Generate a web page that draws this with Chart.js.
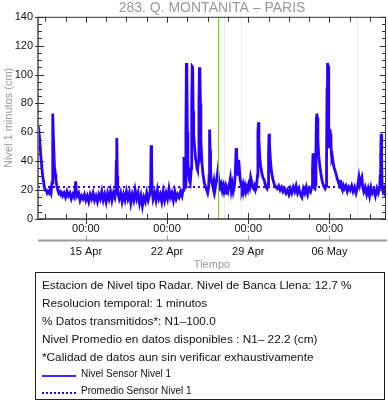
<!DOCTYPE html>
<html><head><meta charset="utf-8">
<script src="https://cdn.jsdelivr.net/npm/chart.js@4"></script>
<style>
html,body{margin:0;padding:0;background:#fff;}
#wrap{position:relative;width:388px;height:404px;overflow:hidden;font-family:"Liberation Sans",Arial,Helvetica,sans-serif;}
#cbox{position:absolute;left:0;top:0;width:388px;height:273px;}
#info{position:absolute;left:35px;top:272px;width:350px;height:128px;border:1px solid #222;box-sizing:border-box;color:#111;}
.l{position:absolute;left:6px;white-space:nowrap;font-size:11.8px;line-height:14px;}
.g{position:absolute;left:45px;white-space:nowrap;font-size:10px;line-height:12px;}
.s{position:absolute;left:6px;width:34px;}
</style></head>
<body>
<div id="wrap">
<div id="cbox"><canvas id="c" width="388" height="273"></canvas></div>
<div id="info">
<div class="l" style="top:5px">Estacion de Nivel tipo Radar. Nivel de Banca Llena: 12.7 %</div>
<div class="l" style="top:23px">Resolucion temporal: 1 minutos</div>
<div class="l" style="top:41px">% Datos transmitidos*: N1&#8211;100.0</div>
<div class="l" style="top:59px">Nivel Promedio en datos disponibles : N1&#8211; 22.2 (cm)</div>
<div class="l" style="top:77px">*Calidad de datos aun sin verificar exhaustivamente</div>
<div class="s" style="top:102px;height:2px;background:#3a2aff"></div>
<div class="g" style="top:95px">Nivel Sensor Nivel 1</div>
<div class="s" style="top:119px;height:0;border-top:2px dotted #2a00ff"></div>
<div class="g" style="top:112px">Promedio Sensor Nivel 1</div>
</div>
</div>
<script>
// hours since 10 Apr 00:00
const hours = [21,22,24,27,29,31,33,34,36,38,40,42,44,46,48,
50,51,52,53,55,57,58,60,62,64,66,68,70,
72,75,78,81,84,87,90,93,96,99,100,102,105,108,111,114,117,120,123,126,129,132,135,138,141,144,147,150,153,156,159,162,165,168,171,174,177,180,
182,183,184,185,186,189,192,195,198,201,204,207,210,213,216,219,222,225,228,231,234,237,240,243,246,249,252,
254,255,256,257,259,262,265,268,271,274,277,280,283,286,289,292,295,298,301,304,307,310,313,316,319,321,
323,324,326,327,328,329,330,331,333,334,336,338,339,340,341,342,343,345,347,349,350,351,353,354,355,356,357,358,360,362,365,368,370,372,374,375,376,377,378,
379,381,383,385,387,389,391,393,394,396,398,400,402,404,406,408,410,412,414,416,418,419,421,423,425,427,429,431,432,434,436,437,439,441,443,445,447,449,451,453,455,457,459,461,463,465,467,469,471,473,
475,476,477,478,480,482,484,486,489,491,493,495,497,498,499,500,502,504,506,508,510,513,516,519,522,525,528,531,534,537,540,543,546,549,552,555,558,561,564,567,570,573,576,579,582,585,588,
589,590,591,592,594,595,596,597,598,599,600,602,604,606,608,609,611,613,615,617,618,619,620,621,622,623,624,625,626,627,628,629,630,632,634,637,640,642,644,646,647,649,651,653,655,658,661,664,667,670,673,676,679,682,
685,687,689,691,693,695,698,701,704,707,710,713,716,719,722,725,728,729,730,731,732,733,735,737,739,741];
const level = [62,64,57,43,35,29,25,22,20,20,18,19,18,20,18,
25,73,72,55,36,31,27,23,20,18,19,17,18,
16,18,15,19,16,18,14,17,15,26,20,16,18,13,16,14,17,13,16,12,17,14,18,13,16,12,17,14,19,13,17,12,18,14,19,13,18,15,
20,40,56,30,18,14,18,12,17,13,19,14,18,11,17,13,20,14,18,11,16,9,15,12,18,13,17,
22,51,40,20,14,18,13,20,14,17,12,19,13,18,14,21,15,18,13,19,14,17,15,19,16,20,
43,30,22,60,108,100,60,40,30,27,25,35,80,105.5,105,75,58,50,42,38,35,34,40,80,105,102,80,55,40,32,25,22,20,18,22,30,62,48,35,
28,25,22,26,20,24,28,33,30,26,22,24,20,23,19,22,18,21,19,23,26,28,20,24,19,22,30,49,45,30,41,38,28,24,21,24,20,23,19,22,20,24,22,29,26,22,21,23,20,22,
30,60,67,55,42,36,32,29,27,24,22,21,24,45,59,52,40,33,29,26,24,22,21,23,20,22,19,21,18,20,17,21,18,22,19,23,18,21,17,15,21,18,22,17,21,19,23,
35,45.5,30,22,21,24,45,70,73,70,55,43,37,32,28,26,24,22,21,23,40,90,108,106,80,66,50,62,59,55,45,42,43,38,35,32,28,26,24,22,27,22,20,23,21,23,19,22,20,23,19,22,18,22,
29,24,27,29,22,19,22,17,21,16,22,18,20,16,21,18,22,30,44,59,40,22,19,21,18,20];
const meanLevel = 22.2;
const xMin = 21, xMax = 741;
const yTicks = [0,20,40,60,80,100,120,140];
const majorHours = [120,288,456,624];
const minorHours = [36,78,162,204,246,330,372,414,498,540,582,666,708];
const timeLabels = ['00:00','00:00','00:00','00:00'];
const dateLabels = ['15 Apr','22 Apr','29 Apr','06 May'];
const markerHour = 394;
const faintHours = [405,442,681];

const FONT = '"Liberation Sans", Arial, sans-serif';
const BLUE = '#2a00ff';

const decor = {
  id:'decor',
  beforeDatasetsDraw(chart){
    const {ctx, chartArea:a, scales:{x}} = chart;
    ctx.save();
    ctx.strokeStyle = '#ececec'; ctx.lineWidth = 1;
    faintHours.forEach(h=>{const px=Math.round(x.getPixelForValue(h))+0.5;ctx.beginPath();ctx.moveTo(px,a.top);ctx.lineTo(px,a.bottom);ctx.stroke();});
    ctx.restore();
  },
  afterDatasetsDraw(chart){
    const {ctx, chartArea:a, scales:{x,y}} = chart;
    ctx.save();
    const gx = Math.round(x.getPixelForValue(markerHour))+0.5;
    ctx.strokeStyle = '#66e000'; ctx.lineWidth = 1;
    ctx.beginPath(); ctx.moveTo(gx,a.top); ctx.lineTo(gx,a.bottom); ctx.stroke();
    ctx.strokeStyle = '#333'; ctx.lineWidth = 1;
    ctx.beginPath(); ctx.moveTo(a.left,a.top+0.5); ctx.lineTo(a.right,a.top+0.5); ctx.stroke();
    ctx.beginPath(); ctx.moveTo(a.right-0.5,a.top); ctx.lineTo(a.right-0.5,a.bottom); ctx.stroke();
    ctx.lineWidth = 1.5;
    ctx.beginPath(); ctx.moveTo(a.left,a.bottom); ctx.lineTo(a.right,a.bottom); ctx.stroke();
    ctx.strokeStyle = '#777'; ctx.lineWidth = 2;
    ctx.beginPath(); ctx.moveTo(a.left,a.top); ctx.lineTo(a.left,a.bottom); ctx.stroke();
    ctx.strokeStyle = '#333'; ctx.lineWidth = 1;
    for (let v=0; v<=140; v+=5){
      const py = Math.round(y.getPixelForValue(v))+0.5;
      const major = yTicks.includes(v);
      ctx.beginPath();
      ctx.moveTo(major? a.left-3 : a.left, py); ctx.lineTo(a.left+(major?6:4), py);
      ctx.moveTo(a.right-(major?6:4), py); ctx.lineTo(a.right, py);
      ctx.stroke();
    }
    minorHours.concat(majorHours).forEach(h=>{
      const px = Math.round(x.getPixelForValue(h))+0.5;
      const major = majorHours.includes(h);
      ctx.beginPath();
      ctx.moveTo(px,a.top); ctx.lineTo(px,a.top+(major?6:5));
      ctx.moveTo(px,a.bottom-(major?6:5)); ctx.lineTo(px,a.bottom+(major?5:0));
      ctx.stroke();
    });
    const ly = 240.5;
    ctx.strokeStyle = '#9a9a9a'; ctx.lineWidth = 2;
    ctx.beginPath(); ctx.moveTo(a.left,ly); ctx.lineTo(a.right+1,ly); ctx.stroke();
    ctx.lineWidth = 1;
    majorHours.forEach(h=>{const px=Math.round(x.getPixelForValue(h))+0.5;ctx.beginPath();ctx.moveTo(px,ly-5);ctx.lineTo(px,ly);ctx.stroke();});
    ctx.restore();
  }
};

new Chart(document.getElementById('c'), {
  type:'line',
  data:{datasets:[
    {label:'Promedio Sensor Nivel 1', data:[{x:xMin,y:meanLevel},{x:xMax,y:meanLevel}], borderColor:BLUE, borderWidth:2, borderDash:[2,3], pointRadius:0, xAxisID:'x', yAxisID:'y'},
    {label:'Nivel Sensor Nivel 1', data:hours.map((h,i)=>({x:h,y:level[i]})), borderColor:BLUE, borderWidth:2.8, pointRadius:0, tension:0, xAxisID:'x', yAxisID:'y'}
  ]},
  options:{
    responsive:false, animation:false, events:[],
    layout:{padding:{top:0,right:2,left:0,bottom:0}},
    plugins:{
      legend:{display:false}, tooltip:{enabled:false},
      title:{display:true, fullSize:false, text:'283. Q. MONTANITA \u2013 PARIS', color:'#999', font:{family:FONT,size:14,weight:'normal'}, padding:{top:0,bottom:0}}
    },
    scales:{
      x:{type:'linear', position:'bottom', min:xMin, max:xMax,
        afterBuildTicks:s=>{s.ticks = majorHours.map(v=>({value:v}));},
        ticks:{callback:(v,i)=>timeLabels[i], color:'#111', font:{family:FONT,size:11}, padding:3, maxRotation:0, autoSkip:false},
        grid:{display:false, drawTicks:false, tickLength:0}, border:{display:false}, afterFit:s=>{s.height=21;}},
      x2:{type:'linear', position:'bottom', min:xMin, max:xMax,
        afterBuildTicks:s=>{s.ticks = majorHours.map(v=>({value:v}));},
        ticks:{callback:(v,i)=>dateLabels[i], color:'#111', font:{family:FONT,size:11}, padding:5, maxRotation:0, autoSkip:false},
        title:{display:true, text:'Tiempo', color:'#999', font:{family:FONT,size:11}, padding:{top:0,bottom:1}},
        grid:{display:false, drawTicks:false, tickLength:0}, border:{display:false}, afterFit:s=>{s.height=33;}},
      y:{min:0, max:140,
        afterBuildTicks:s=>{s.ticks = yTicks.map(v=>({value:v}));},
        ticks:{color:'#111', font:{family:FONT,size:11}, padding:5},
        title:{display:true, text:'Nivel 1 minutos (cm)', color:'#999', font:{family:FONT,size:11}, padding:{top:2,bottom:0}},
        grid:{display:false, drawTicks:false, tickLength:0}, border:{display:false}, afterFit:s=>{s.width=38;}}
    }
  },
  plugins:[decor]
});
</script>
</body></html>
